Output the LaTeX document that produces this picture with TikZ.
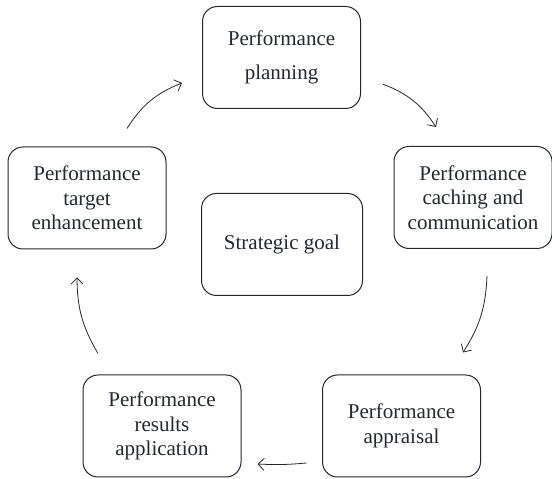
\documentclass[tikz,border=0pt]{standalone}
\usepackage{fontspec}
\setmainfont{Liberation Serif}
\usetikzlibrary{arrows.meta, positioning}
\definecolor{inkgray}{RGB}{36,38,48}
\newlength{\boxwidth}
\setlength{\boxwidth}{158pt}
\newlength{\boxheight}
\setlength{\boxheight}{102pt}
\newcommand{\planningtext}{Performance \\[10pt] planning}
\newcommand{\cachingtext}{Performance \\ caching and \\ communication}
\newcommand{\appraisaltext}{Performance \\ appraisal}
\newcommand{\applicationtext}{Performance \\ results \\ application}
\newcommand{\enhancementtext}{Performance \\ target \\ enhancement}
\newcommand{\goaltext}{Strategic goal}

\begin{document}
\begin{tikzpicture}[x=1pt, y=1pt, stage/.style={rectangle, rounded corners=15pt, draw=inkgray, line width=1pt, text=inkgray, align=center, minimum width=\boxwidth, minimum height=\boxheight, font=\fontsize{21}{24.5}\selectfont}, cycle/.style={draw=inkgray, line width=0.8pt, -{Straight Barb[length=6pt, width=12pt]}}]
  \useasboundingbox (0,0) rectangle (552,479);
  %Make nodes with boxes of text
  \draw (281.5,421.5) node[stage] (P) {\planningtext};
  \draw (473,281.5) node[stage] (C) {\cachingtext};
  \draw (401.5,53) node[stage] (A) {\appraisaltext};
  \draw (162,53) node[stage] (R) {\applicationtext};
  \draw (87,281) node[stage] (T) {\enhancementtext};
  \draw (282,234.5) node[stage, minimum width=161pt] (G) {\goaltext};

  %curved arrows around the cycle
  \path ([xshift=40pt, yshift=18pt]T.north) edge[cycle, bend left=18] ([xshift=-20pt, yshift=-25.5pt]P.west);
  \path ([xshift=21.5pt, yshift=-26.5pt]P.east) edge[cycle, bend left=18] ([xshift=-37pt, yshift=19pt]C.north);
  \path ([xshift=14pt, yshift=-27pt]C.south) edge[cycle, bend left=15] ([xshift=61.5pt, yshift=22pt]A.north);
  \path ([xshift=-15.5pt, yshift=-37pt]A.west) edge[cycle, bend left=4] ([xshift=16pt, yshift=-38pt]R.east);
  \path ([xshift=-64pt, yshift=21pt]R.north) edge[cycle, bend left=15] ([xshift=-10pt, yshift=-28pt]T.south);
\end{tikzpicture}
\end{document}
